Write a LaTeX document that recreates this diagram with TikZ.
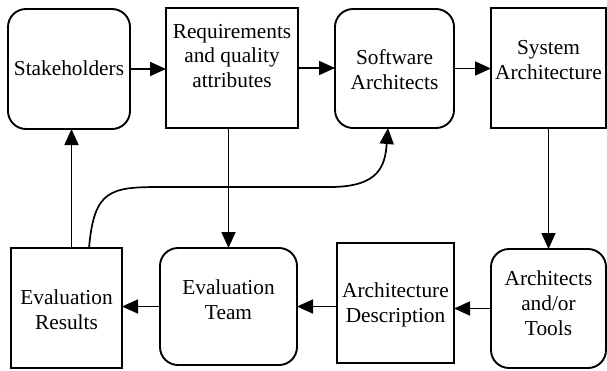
\documentclass[tikz,border=0pt]{standalone}
\usepackage{fontspec}
\setmainfont{LiberationSerif}[Extension=.ttf, UprightFont=*-Regular, BoldFont=*-Bold]
\usetikzlibrary{arrows.meta}
\begin{document}
\begin{tikzpicture}[x=1bp,y=-1bp,
  box/.style={draw, line width=1.9bp, inner sep=0pt, outer sep=0pt},
  rbox/.style={box, rounded corners=18bp},
  lbl/.style={align=center, font=\fontsize{21.4}{25}\selectfont, inner sep=0pt},
  con/.style={line width=1.7bp, -{Triangle[length=16bp,width=14bp]}}]
\useasboundingbox (0,0) rectangle (607,370);
% boxes
\node[rbox, minimum width=122bp, minimum height=120bp] (sh) at (69,69) {};
\node[box,  minimum width=132bp, minimum height=120bp] (rq) at (232,68) {};
\node[rbox, minimum width=119bp, minimum height=119bp] (sa) at (394.5,68.5) {};
\node[box,  minimum width=115bp, minimum height=120bp] (sy) at (548.5,68) {};
\node[box,  minimum width=111bp, minimum height=120bp] (er) at (66.5,308) {};
\node[rbox, minimum width=137bp, minimum height=117bp] (et) at (228.5,306.5) {};
\node[box,  minimum width=117bp, minimum height=120bp] (ad) at (395.5,303) {};
\node[rbox, minimum width=115bp, minimum height=119bp] (at) at (548.5,308.5) {};
% texts
\node[lbl] (tsh) at (69,68) {Stakeholders};
\node[lbl] (trq) at (232,56) {Requirements\\and quality\\attributes};
\node[lbl] (tsa) at (394.5,70) {Software\\Architects};
\node[lbl] (tsy) at (548.5,60) {System\\Architecture};
\node[lbl] (ter) at (66.5,309.5) {Evaluation\\Results};
\node[lbl] (tet) at (228.5,299.5) {Evaluation\\Team};
\node[lbl] (tad) at (395.5,304.5) {Architecture\\Description};
\node[lbl] (tat) at (548.5,303.5) {Architects\\and/or\\Tools};
% connectors
\draw[con] (sh.east) -- (sh.east -| rq.west);
\draw[con] (rq.east) -- (rq.east -| sa.west);
\draw[con] (sa.east) -- (sa.east -| sy.west);
\draw[con] (sy.south) -- (sy.south |- at.north);
\draw[con] (at.west) -- (at.west -| ad.east);
\draw[con] (ad.west |- et.east) -- (et.east);
\draw[con] (et.west) -- (et.west -| er.east);
\draw[con] (rq.south -| et.north) -- (et.north);
\draw[con] ([xshift=5bp]er.north) -- ([xshift=5bp]er.north |- sh.south);
\coordinate (cs) at ([xshift=22.5bp]er.north);
\coordinate (ce) at ([xshift=-6.5bp]sa.south);
\draw[con] (cs) .. controls (94,190) and (110,187) .. (160,187) -- (330,187)
  .. controls (380,187) and (385,165) .. (ce);
\end{tikzpicture}
\end{document}
